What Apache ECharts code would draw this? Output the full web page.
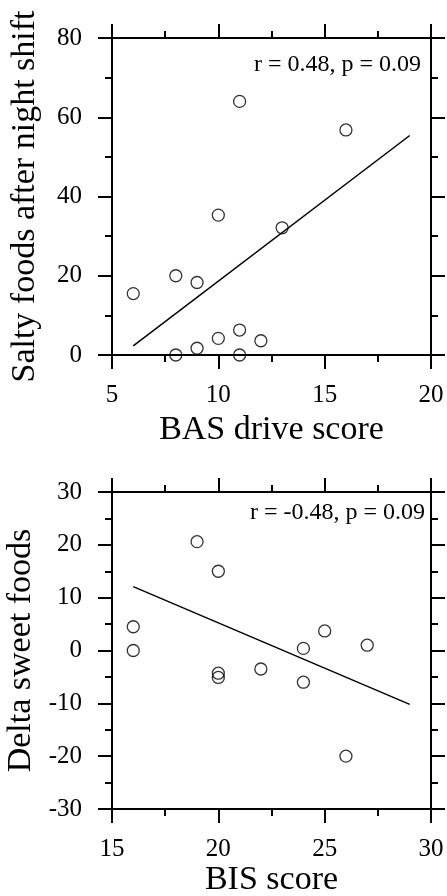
<!DOCTYPE html>
<html>
<head>
<meta charset="utf-8">
<script src="https://cdn.jsdelivr.net/npm/echarts@6/dist/echarts.min.js"></script>
<style>
  html, body { margin: 0; padding: 0; background: #fff; }
  #main { width: 447px; height: 896px; }
</style>
</head>
<body>
<div id="main"></div>
<script>
// panel A: BAS drive score vs salty foods
const basX = [6, 8, 8, 9, 9, 10, 10, 11, 11, 11, 12, 13, 16];
const saltyY = [15.5, 20, 0, 18.3, 1.7, 35.3, 4.2, 64, 6.3, 0, 3.6, 32.1, 56.8];
const basFitX = [6, 19];
const basFitY = [2.3, 55.4];

// panel B: BIS score vs delta sweet foods
const bisX = [16, 16, 19, 20, 20, 20, 22, 24, 24, 25, 27, 26];
const sweetY = [4.5, 0, 20.6, 15, -4.3, -5.1, -3.5, 0.4, -6, 3.7, 1, -20];
const bisFitX = [16, 29];
const bisFitY = [12.1, -10.2];

const FONT = "Liberation Serif";

function makeAxis(grid, pos, min, max, step, name, showLabel, labelMargin, nameGap) {
  return {
    gridIndex: grid,
    type: "value",
    position: pos,
    min: min,
    max: max,
    interval: step,
    name: showLabel ? name : "",
    nameLocation: "middle",
    nameGap: nameGap,
    nameTextStyle: { fontFamily: FONT, fontSize: 34, color: "#000" },
    axisLine: { show: true, onZero: false, lineStyle: { color: "#000", width: 2 } },
    axisTick: { show: true, length: 14, lineStyle: { color: "#000", width: 2 } },
    minorTick: { show: true, splitNumber: 2, length: 7, lineStyle: { color: "#000", width: 2 } },
    splitLine: { show: false },
    minorSplitLine: { show: false },
    axisLabel: {
      show: showLabel,
      margin: labelMargin,
      fontFamily: FONT,
      fontSize: 25,
      color: "#000",
      showMinLabel: true,
      showMaxLabel: true
    }
  };
}

const chart = echarts.init(document.getElementById("main"), null, { renderer: "canvas" });

const pointStyle = {
  type: "scatter",
  symbol: "circle",
  symbolSize: 12,
  itemStyle: { color: "rgba(0,0,0,0)", borderColor: "#000", borderWidth: 1.3 },
  silent: true
};

const option = {
  animation: false,
  backgroundColor: "#fff",
  grid: [
    { left: 112, top: 38, width: 319, height: 317, containLabel: false, outerBoundsMode: "none" },
    { left: 112, top: 492, width: 319, height: 317, containLabel: false, outerBoundsMode: "none" }
  ],
  xAxis: [
    makeAxis(0, "bottom", 5, 20, 5, "BAS drive score", true, 28, 58),
    makeAxis(0, "top", 5, 20, 5, "", false, 8, 0),
    makeAxis(1, "bottom", 15, 30, 5, "BIS score", true, 28, 54),
    makeAxis(1, "top", 15, 30, 5, "", false, 8, 0)
  ],
  yAxis: [
    makeAxis(0, "left", 0, 80, 20, "Salty foods after night shift", true, 30, 70),
    makeAxis(0, "right", 0, 80, 20, "", false, 8, 0),
    makeAxis(1, "left", -30, 30, 10, "Delta sweet foods", true, 30, 70),
    makeAxis(1, "right", -30, 30, 10, "", false, 8, 0)
  ],
  graphic: [
    {
      type: "text", right: 26, top: 53,
      style: { text: "r = 0.48, p = 0.09", font: "24px '" + FONT + "'", fill: "#000" }
    },
    {
      type: "text", right: 22, top: 501,
      style: { text: "r = -0.48, p = 0.09", font: "24px '" + FONT + "'", fill: "#000" }
    }
  ],
  series: [
    Object.assign({}, pointStyle, {
      xAxisIndex: 0, yAxisIndex: 0,
      data: basX.map((x, i) => [x, saltyY[i]])
    }),
    {
      type: "line", xAxisIndex: 0, yAxisIndex: 0, showSymbol: false, silent: true,
      lineStyle: { color: "#000", width: 1.5 },
      data: basFitX.map((x, i) => [x, basFitY[i]])
    },
    Object.assign({}, pointStyle, {
      xAxisIndex: 2, yAxisIndex: 2,
      data: bisX.map((x, i) => [x, sweetY[i]])
    }),
    {
      type: "line", xAxisIndex: 2, yAxisIndex: 2, showSymbol: false, silent: true,
      lineStyle: { color: "#000", width: 1.5 },
      data: bisFitX.map((x, i) => [x, bisFitY[i]])
    }
  ]
};

chart.setOption(option);
</script>
</body>
</html>
